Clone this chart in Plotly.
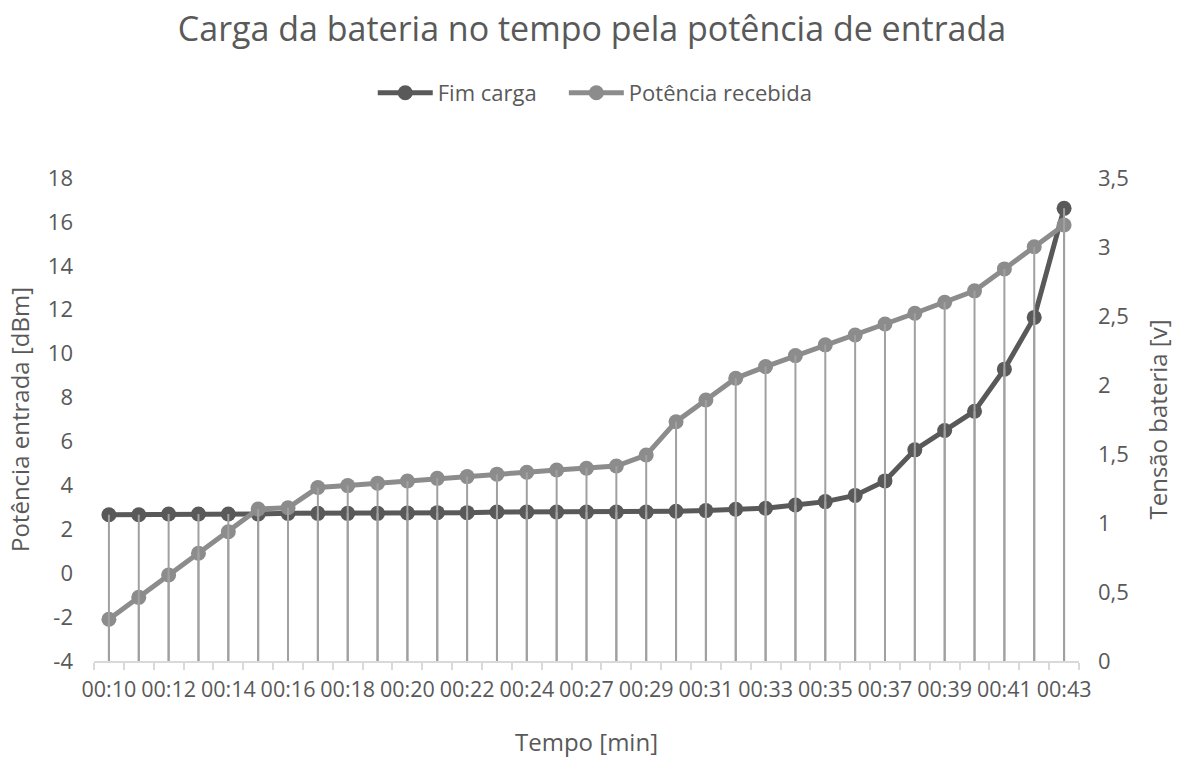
import plotly.graph_objects as go

# Time stamps of each reading (one minute missing between 00:24 and 00:27)
tempo = [
    "00:10", "00:11", "00:12", "00:13", "00:14", "00:15", "00:16", "00:17",
    "00:18", "00:19", "00:20", "00:21", "00:22", "00:23", "00:24", "00:25",
    "00:27", "00:28", "00:29", "00:30", "00:31", "00:32", "00:33", "00:34",
    "00:35", "00:36", "00:37", "00:38", "00:39", "00:40", "00:41", "00:42",
    "00:43",
]

# Battery voltage at end of charge [V]
fim_carga = [
    1.06, 1.06, 1.065, 1.065, 1.065, 1.065, 1.07, 1.07,
    1.07, 1.07, 1.072, 1.075, 1.075, 1.08, 1.08, 1.08,
    1.08, 1.08, 1.08, 1.085, 1.09, 1.10, 1.107, 1.13,
    1.155, 1.20, 1.305, 1.53, 1.67, 1.81, 2.115, 2.49,
    3.28,
]

# Received input power [dBm]
potencia = [
    -2.10, -1.10, -0.08, 0.91, 1.89, 2.92, 2.98, 3.90,
    3.99, 4.10, 4.20, 4.32, 4.40, 4.51, 4.60, 4.70,
    4.78, 4.88, 5.38, 6.90, 7.89, 8.88, 9.41, 9.91,
    10.40, 10.85, 11.35, 11.84, 12.34, 12.86, 13.86, 14.87,
    15.86,
]

# Only every other time stamp is labelled
tick_labels = [t if i % 2 == 0 else "" for i, t in enumerate(tempo)]

# Power axis ticks (plain hyphen for negatives)
dbm_ticks = [-4, -2, 0, 2, 4, 6, 8, 10, 12, 14, 16, 18]
dbm_tick_labels = ["-4", "-2", "0", "2", "4", "6", "8", "10", "12", "14", "16", "18"]

FONT = "Open Sans"
TEXT = "#595959"
DARK = "#595959"
LIGHT = "#8c8c8c"
DROP = "#a0a0a0"
AXIS = "#d9d9d9"


def drop_lines(xs, ys, base):
    """Vertical segments from each point down to the axis floor."""
    x, y = [], []
    for xv, yv in zip(xs, ys):
        x += [xv, xv, None]
        y += [yv, base, None]
    return x, y


fig = go.Figure()

fig.add_trace(go.Scatter(
    x=tempo, y=fim_carga, name="Fim carga", yaxis="y", legend="legend",
    mode="lines+markers",
    line=dict(color=DARK, width=5),
    marker=dict(color=DARK, size=15),
))

fig.add_trace(go.Scatter(
    x=tempo, y=potencia, name="Potência recebida", yaxis="y2", legend="legend2",
    mode="lines+markers",
    line=dict(color=LIGHT, width=5),
    marker=dict(color=LIGHT, size=15),
))

dx, dy = drop_lines(tempo, potencia, dbm_ticks[0])
fig.add_trace(go.Scatter(
    x=dx, y=dy, yaxis="y2", mode="lines", showlegend=False,
    hoverinfo="skip", line=dict(color=DROP, width=2),
))

dx, dy = drop_lines(tempo, fim_carga, 0)
fig.add_trace(go.Scatter(
    x=dx, y=dy, yaxis="y3", mode="lines", showlegend=False,
    hoverinfo="skip", line=dict(color=DROP, width=2),
))

legend_style = dict(
    orientation="h", xanchor="left", y=1.176, yanchor="middle",
    font=dict(size=22, color=TEXT, family=FONT),
    itemwidth=55, bgcolor="rgba(0,0,0,0)",
)

fig.update_layout(
    width=1184, height=758,
    margin=dict(l=94, r=105, t=178, b=97),
    paper_bgcolor="white", plot_bgcolor="white",
    separators=", ",
    font=dict(family=FONT, color=TEXT, size=22),
    title=dict(
        text="Carga da bateria no tempo pela potência de entrada",
        x=0.5, xanchor="center", y=0.962, yanchor="middle",
        font=dict(size=34, color=TEXT, family=FONT),
    ),
    legend=dict(x=0.283, **legend_style),
    legend2=dict(x=0.477, **legend_style),
    xaxis=dict(
        type="category", categoryorder="array", categoryarray=tempo,
        range=[-0.5, len(tempo) - 0.5], automargin=False,
        tickmode="array", tickvals=tempo, ticktext=tick_labels,
        tickson="boundaries", ticks="outside", ticklen=7, tickangle=0,
        tickcolor=AXIS, tickwidth=1.5,
        showline=True, linecolor=AXIS, linewidth=1.5,
        showgrid=False, zeroline=False,
        ticklabelstandoff=8,
        tickfont=dict(size=21.5, color=TEXT),
        title=dict(text="Tempo [min]", font=dict(size=24, color=TEXT), standoff=35),
    ),
    yaxis=dict(
        side="right", range=[0, 3.5], dtick=0.5, automargin=False,
        showgrid=False, zeroline=False, showline=False, ticks="",
        ticklabelstandoff=18,
        tickfont=dict(size=22, color=TEXT),
        title=dict(text="Tensão bateria [v]", font=dict(size=24, color=TEXT), standoff=22),
    ),
    yaxis2=dict(
        overlaying="y", side="left", range=[dbm_ticks[0], dbm_ticks[-1]],
        tickmode="array", tickvals=dbm_ticks, ticktext=dbm_tick_labels,
        automargin=False,
        showgrid=False, zeroline=False, showline=False, ticks="",
        ticklabelstandoff=20,
        tickfont=dict(size=22, color=TEXT),
        title=dict(text="Potência entrada [dBm]", font=dict(size=24, color=TEXT), standoff=11),
    ),
    yaxis3=dict(
        overlaying="y", range=[0, 3.5], visible=False,
    ),
)

fig.write_html("out.html")
